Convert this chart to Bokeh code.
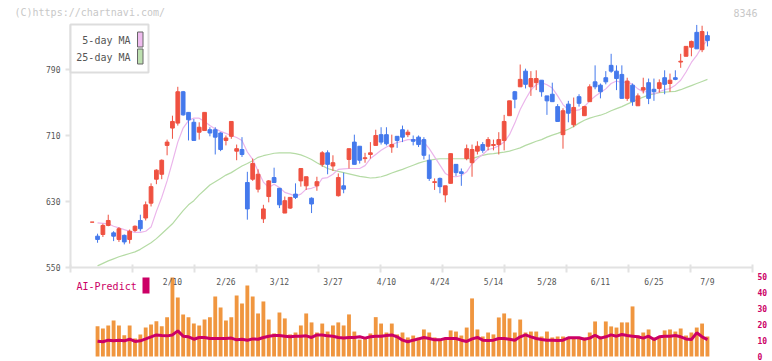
import numpy as np
from bokeh.plotting import figure
from bokeh.models import (Range1d, LinearAxis, FixedTicker, Label, BoxAnnotation, ColumnDataSource)
from bokeh.embed import file_html
from bokeh.resources import INLINE

# ---------------- data ----------------
opens = [605, 588, 590, 601, 592, 584, 589, 584, 595, 607, 610, 628, 657, 663, 698, 719, 725, 763, 738, 726,
         714, 716, 717, 717, 713, 704, 709, 691, 693, 653, 657, 645, 609, 636, 659, 646, 616, 622, 639, 655,
         649, 634, 649, 675, 689, 673, 637, 649, 681, 702, 697, 682, 687, 698, 711, 711, 696, 709, 717, 711,
         705, 708, 705, 680, 653, 658, 638, 652, 675, 666, 682, 677, 691, 699, 697, 698, 699, 704, 734, 763,
         769, 788, 769, 774, 777, 758, 760, 745, 711, 748, 723, 757, 734, 751, 775, 771, 780, 795, 788, 784,
         755, 771, 746, 765, 774, 766, 767, 780, 773, 780, 799, 806, 817, 835, 814, 831]
highs = [605, 591, 603, 614, 594, 599, 590, 596, 601, 614, 630, 652, 669, 681, 705, 734, 769, 764, 738, 730,
         726, 738, 720, 720, 714, 710, 727, 699, 708, 666, 682, 669, 626, 656, 671, 646, 636, 635, 652, 670,
         660, 635, 660, 691, 692, 686, 664, 665, 694, 711, 697, 689, 702, 717, 720, 720, 711, 709, 722, 717,
         710, 710, 708, 687, 658, 659, 649, 688, 675, 670, 699, 699, 703, 702, 708, 705, 714, 735, 752, 764,
         796, 791, 788, 789, 777, 758, 774, 748, 743, 752, 756, 760, 746, 772, 795, 773, 788, 809, 795, 795,
         780, 773, 761, 780, 779, 779, 778, 789, 785, 789, 809, 818, 825, 844, 843, 836]
lows = [605, 580, 587, 600, 582, 581, 578, 579, 593, 594, 607, 624, 651, 657, 686, 706, 722, 734, 704, 704,
        705, 716, 709, 687, 691, 698, 706, 680, 684, 608, 655, 641, 604, 629, 653, 622, 616, 621, 633, 648,
        644, 616, 643, 672, 663, 667, 636, 640, 670, 675, 676, 677, 682, 698, 699, 698, 689, 695, 702, 708,
        698, 696, 681, 655, 644, 640, 629, 652, 661, 649, 680, 660, 687, 689, 692, 692, 687, 692, 734, 743,
        769, 767, 758, 765, 757, 735, 751, 727, 694, 726, 720, 745, 734, 751, 766, 755, 772, 786, 765, 755,
        752, 746, 746, 761, 748, 752, 762, 760, 763, 777, 792, 806, 806, 815, 811, 818]
closes = [605, 584, 601, 607, 588, 597, 581, 594, 600, 597, 626, 648, 668, 680, 702, 727, 763, 735, 729, 704,
          720, 738, 713, 708, 693, 707, 727, 694, 687, 621, 676, 663, 621, 655, 653, 626, 631, 635, 635, 670,
          660, 627, 654, 689, 675, 677, 659, 645, 694, 675, 680, 683, 689, 710, 702, 700, 699, 704, 708, 714,
          703, 699, 686, 658, 654, 648, 649, 688, 665, 664, 694, 693, 697, 692, 705, 699, 705, 727, 752, 754,
          778, 772, 779, 779, 763, 752, 751, 727, 740, 737, 744, 749, 745, 769, 769, 763, 775, 788, 779, 755,
          776, 751, 758, 768, 755, 763, 774, 772, 777, 778, 800, 818, 824, 815, 836, 825]

ma5 = [604, 603.5, 603, 600, 598, 596, 594, 592.5, 592.5, 594, 599, 618, 635, 655, 678, 702, 719, 728, 731, 731,
       727, 722, 718, 715, 712.5, 710, 707.5, 704, 690, 681, 667, 653.5, 647, 651, 647, 641, 639, 636.5, 639, 645,
       646, 648.5, 658, 659, 663, 669, 669.5, 670, 670, 670, 673.5, 682, 687, 692, 696, 699, 701.5, 703, 705, 705,
       705, 702, 694, 684, 674, 664, 660.5, 660, 661.5, 666, 676, 682, 687, 693, 694.5, 697.5, 702, 711, 725, 741.5,
       754, 765, 771.5, 774, 771.5, 767.5, 758, 747.5, 741, 740, 741, 745, 752, 757.5, 762, 766.5, 773, 776, 774, 775,
       772, 766.5, 763, 763, 760, 763, 765.5, 767, 771, 777, 787, 798.5, 807, 818, 825.5]
ma25 = [552, 555, 558, 560.5, 563, 565, 567, 569, 572, 576, 580, 585, 591, 597, 603, 611, 619, 626, 631, 638,
        644, 650, 654, 658, 662, 665, 669, 673, 676, 679.5, 683.5, 685.5, 687, 688.5, 689, 689, 689, 688, 686.5, 684,
        681, 677, 673.5, 670, 668, 666.5, 665, 663.5, 662, 660.5, 659.5, 658.5, 659, 660, 662, 664.5, 666.8, 669, 671.5, 674,
        676.5, 678.5, 680, 681, 681.8, 681.8, 681.8, 681.8, 681.8, 681.8, 682, 684, 686, 687.5, 688, 689, 689.8, 691, 693, 695,
        698, 700.5, 703, 705, 708, 710.5, 712.5, 715, 717.5, 721, 725, 728.5, 731, 733, 734.6, 737, 740, 742.5, 745, 748,
        751, 754, 756.5, 759, 760.5, 762, 762.5, 763, 763.5, 765.5, 768, 770.5, 773, 775.5, 778]

volume = [18.9, 17.5, 19.4, 22.5, 19.4, 13.3, 19.4, 11.3, 13.8, 18.1, 20, 22.1, 18.9, 24.6, 49.4, 36.9, 26.3, 24.6, 20.6, 19.4,
          23.1, 24.6, 37.5, 30.6, 22.5, 24.6, 38.1, 33.1, 44.4, 37.5, 26.9, 34.4, 23.1, 14.4, 27.5, 23.8, 13.8, 15, 19.4, 26.9,
          21.3, 15, 20.6, 15.6, 19.4, 21.3, 19.4, 26.3, 15.6, 10.6, 11.9, 14.4, 24.6, 20.6, 15, 20.6, 13.8, 15, 11.9, 13.1,
          11.9, 16.9, 15, 11.9, 10.6, 11.3, 16.3, 15.6, 13.1, 18.1, 36.3, 16.9, 12.5, 15, 13.8, 24.4, 26.9, 23.8, 15, 23.1,
          15, 15.6, 15.6, 12.5, 15.6, 11.9, 12.5, 12.5, 11.9, 11.9, 11.9, 11.9, 15, 21.9, 12.5, 21.9, 18.8, 18.1, 21.3, 21.3,
          31.3, 13.1, 15, 16.9, 11.9, 12.5, 16.3, 16.9, 15.6, 17.5, 13.1, 15, 18.1, 20.6, 12.5]
predict = [9.6, 9.2, 10.2, 9.8, 10.2, 9.8, 10.8, 9.4, 9.8, 11, 12.3, 13.5, 13.1, 12.9, 13.5, 16, 12.7, 12.3, 10.8, 11.9,
           11.9, 11.25, 11.25, 11.25, 11.25, 11.5, 10.4, 10.8, 10.2, 11, 10.8, 11.9, 12.7, 13.1, 13.1, 12.7, 12.3, 12.7, 12.7, 12.9,
           11.9, 13.5, 13.5, 12.9, 12.7, 11.9, 11.5, 11.9, 11.9, 12.3, 11.5, 12.3, 12.7, 12.7, 13.1, 13.5, 12.3, 10.2, 9.2, 10.2,
           11, 11.9, 11.25, 10.4, 10.4, 11.25, 11.25, 11.25, 10.2, 9.4, 11, 11.9, 10.2, 10, 10.2, 11.25, 11.25, 10.8, 10.2, 12.3,
           13.5, 12.3, 11.25, 10.6, 10.2, 10.2, 10, 10.2, 11.7, 11.7, 11.7, 10.8, 11.5, 13.3, 11.5, 12.3, 13.5, 12.7, 13.75, 13.1,
           12.7, 12.3, 11.5, 12.7, 10.6, 12.3, 12.7, 12.7, 13.1, 12.3, 11, 10.6, 14.8, 12.3, 10.6]

date_ticks = [15, 25, 35, 45, 55, 65, 75, 85, 95, 105, 115]
date_labels = ["2/10", "2/26", "3/12", "3/27", "4/10", "4/24", "5/14", "5/28", "6/11", "6/25", "7/9"]
price_ticks = [550, 630, 710, 790]
vol_ticks = [0, 10, 20, 30, 40, 50]

# ---------------- layout constants (pixel -> data mapping) ----------------
W, H = 772, 361
AX_L, AX_R = 70, 752          # pixel columns of the chart's left / right edge
X_LO, X_HI = -17.14, 127.16   # index at canvas x=0 and x=772
P_LO, P_HI = 436.1, 873.6     # price at canvas y=361 and y=0
V_LO, V_HI = -3.125, 222.5    # lower-panel value at canvas y=361 and y=0
FONT = "DejaVu Sans Mono"
UP, DOWN = "#ef5140", "#4479ec"


def fx(px):
    return X_LO + px * (X_HI - X_LO) / W


def fy(py):
    return P_HI - py * (P_HI - P_LO) / H


idx = list(range(len(closes)))
src = ColumnDataSource(dict(
    x=idx, o=opens, h=highs, l=lows, c=closes,
    top=[max(a, b) for a, b in zip(opens, closes)],
    bottom=[min(a, b) for a, b in zip(opens, closes)],
    color=[UP if c >= o else DOWN for o, c in zip(opens, closes)],
))

p = figure(width=W, height=H, x_range=Range1d(X_LO, X_HI), y_range=Range1d(P_LO, P_HI),
           output_backend="svg", toolbar_location=None, x_axis_location=None, y_axis_location=None,
           min_border_left=0, min_border_right=0, min_border_top=0, min_border_bottom=0)
p.outline_line_color = None
p.xgrid.visible = False
p.ygrid.visible = False
p.extra_y_ranges = {"vol": Range1d(V_LO, V_HI)}

# axes
grid_ticks = list(np.linspace(fx(AX_L), fx(AX_R), 12))
ax_grid = LinearAxis(ticker=FixedTicker(ticks=grid_ticks), fixed_location=550,
                     bounds=(fx(AX_L), fx(AX_R)),
                     axis_line_color="#e2e2e2", axis_line_width=2,
                     major_tick_line_color="#e2e2e2", major_tick_line_width=2,
                     major_tick_in=3, major_tick_out=5, minor_tick_line_color=None,
                     major_label_text_color=None)
p.add_layout(ax_grid, "below")

ax_dates = LinearAxis(ticker=FixedTicker(ticks=date_ticks),
                      major_label_overrides={t: s for t, s in zip(date_ticks, date_labels)},
                      fixed_location=550, axis_line_color=None, major_tick_line_color=None,
                      minor_tick_line_color=None, major_tick_in=0, major_tick_out=0,
                      major_label_standoff=10, major_label_text_font=FONT,
                      major_label_text_font_size="8px", major_label_text_color="#555555")
p.add_layout(ax_dates, "below")

ax_p = LinearAxis(ticker=FixedTicker(ticks=price_ticks), bounds=(550, max(highs)),
                  fixed_location=fx(AX_L),
                  axis_line_color="#e2e2e2", axis_line_width=2,
                  major_tick_line_color="#e2e2e2", major_tick_line_width=2,
                  major_tick_in=0, major_tick_out=5, minor_tick_line_color=None,
                  major_label_standoff=5, major_label_text_font=FONT,
                  major_label_text_font_size="8px", major_label_text_color="#555555")
p.add_layout(ax_p, "left")

ax_v = LinearAxis(y_range_name="vol", ticker=FixedTicker(ticks=vol_ticks),
                  fixed_location=fx(AX_R),
                  axis_line_color=None, major_tick_line_color=None, minor_tick_line_color=None,
                  major_tick_in=0, major_tick_out=0, major_label_standoff=5,
                  major_label_text_font=FONT, major_label_text_font_size="8px",
                  major_label_text_font_style="bold", major_label_text_color="#cc0066")
p.add_layout(ax_v, "right")

# lower panel
p.vbar(x=idx[1:], width=0.72, top=volume, bottom=0, y_range_name="vol",
       fill_color="#f0963f", line_color=None)
p.line(x=idx[1:], y=predict, y_range_name="vol", line_color="#cc0066", line_width=3)

# moving averages
p.line(x=idx[1:], y=ma25, line_color="#b5dba5", line_width=1.2)
p.line(x=idx[1:], y=ma5, line_color="#ebb5eb", line_width=1.2)

# candles
p.segment(x0="x", y0="h", x1="x", y1="l", line_color="color", line_width=1, source=src)
p.vbar(x="x", width=0.7, top="top", bottom="bottom", fill_color="color", line_color="color",
       line_width=1, source=src)

# texts & legend
p.add_layout(Label(x=fx(14), y=fy(12), text="(C)https://chartnavi.com/", text_font=FONT,
                   text_font_size="10px", text_color="#c8c8c8", text_baseline="middle", text_align="left"))
p.add_layout(Label(x=fx(757), y=fy(12), text="8346", text_font=FONT,
                   text_font_size="10px", text_color="#c8c8c8", text_baseline="middle", text_align="right"))

p.add_layout(BoxAnnotation(left=fx(70), right=fx(148), top=fy(24), bottom=fy(72),
                           fill_color="white", fill_alpha=1, line_color="#dddddd", line_alpha=1, line_width=2))
p.add_layout(BoxAnnotation(left=fx(137), right=fx(142.5), top=fy(31.5), bottom=fy(46.5),
                           fill_color="#efbcef", fill_alpha=1, line_color="#666666", line_alpha=1, line_width=1))
p.add_layout(BoxAnnotation(left=fx(137), right=fx(142.5), top=fy(48.5), bottom=fy(63.5),
                           fill_color="#bde0b0", fill_alpha=1, line_color="#666666", line_alpha=1, line_width=1))
p.add_layout(Label(x=fx(130), y=fy(40), text="5-day MA", text_font=FONT, text_font_size="10px",
                   text_color="#555555", text_baseline="middle", text_align="right"))
p.add_layout(Label(x=fx(130), y=fy(57), text="25-day MA", text_font=FONT, text_font_size="10px",
                   text_color="#555555", text_baseline="middle", text_align="right"))

p.add_layout(Label(x=fx(76), y=fy(286), text="AI-Predict", text_font=FONT, text_font_size="10px",
                   text_color="#cc0066", text_baseline="middle", text_align="left"))
p.add_layout(BoxAnnotation(left=fx(142), right=fx(149), top=fy(277), bottom=fy(293),
                           fill_color="#cc0066", fill_alpha=1, line_color=None))

open("out.html", "w").write(file_html(p, INLINE))
